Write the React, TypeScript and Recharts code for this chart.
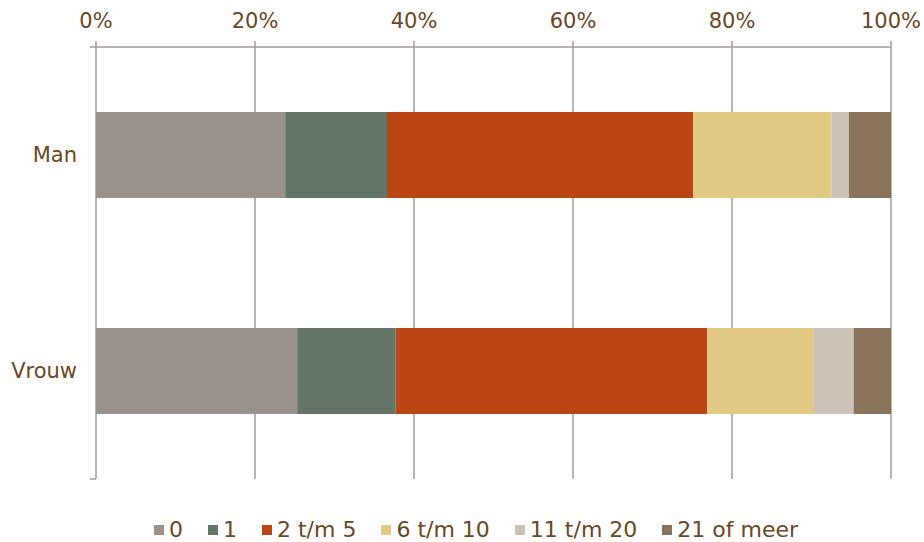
import React from "react";
import {
  BarChart,
  Bar,
  XAxis,
  YAxis,
  CartesianGrid,
  Legend,
} from "recharts";

// aandeel per groep (%)
const categories = ["Man", "Vrouw"];
const seriesNames = ["0", "1", "2 t/m 5", "6 t/m 10", "11 t/m 20", "21 of meer"];
const s0 = [23.8, 25.3];
const s1 = [12.8, 12.4];
const s2 = [38.5, 39.2];
const s3 = [17.4, 13.3];
const s4 = [2.2, 5.1];
const s5 = [5.3, 4.7];
const xTicks = [0, 20, 40, 60, 80, 100];
const edgeTicks = [0, 1, 2];

const COLORS = ["#9a928b", "#627566", "#bb4513", "#e2ca85", "#cdc4b7", "#8a735b"];
const TEXT = "#6b4723";
const LINE = "#a59a95";
const FONT = "'DejaVu Sans', sans-serif";

const allSeries = [s0, s1, s2, s3, s4, s5];
const data = categories.map((name, i) => {
  const row: Record<string, string | number> = { name };
  seriesNames.forEach((s, j) => {
    row[s] = allSeries[j][i];
  });
  return row;
});

const LegendContent = () => (
  <div
    style={{
      height: 63,
      display: "flex",
      justifyContent: "center",
      alignItems: "flex-end",
      paddingLeft: 61,
      boxSizing: "border-box",
      gap: 25,
      fontFamily: FONT,
      fontSize: 22,
      color: TEXT,
    }}
  >
    {seriesNames.map((s, i) => (
      <div key={s} style={{ display: "flex", alignItems: "center", height: 24, lineHeight: "24px", whiteSpace: "nowrap" }}>
        <span style={{ width: 10, height: 10, background: COLORS[i], marginRight: 5, display: "inline-block" }} />
        <span>{s}</span>
      </div>
    ))}
  </div>
);

export default function App() {
  return (
    <div style={{ position: "absolute", left: 0, top: 0 }}>
      <BarChart
        width={924}
        height={542}
        data={data}
        layout="vertical"
        margin={{ top: 0, right: 33, left: 0, bottom: 0 }}
      >
        <CartesianGrid horizontal={false} stroke={LINE} strokeWidth={1.5} />
        <YAxis
          yAxisId="b"
          dataKey="name"
          type="category"
          width={95}
          axisLine={false}
          tickLine={false}
          tickSize={0}
          tickMargin={18}
          tick={{ fill: TEXT, fontSize: 21, fontFamily: FONT }}
        />
        {/* alleen voor de streepjes op de categoriegrenzen */}
        <YAxis
          yAxisId="a"
          type="number"
          domain={[0, 2]}
          ticks={edgeTicks}
          width={1}
          tick={() => <g />}
          axisLine={false}
          tickLine={{ stroke: LINE, strokeWidth: 1.5 }}
          tickSize={6}
        />
        <XAxis
          type="number"
          orientation="top"
          domain={[0, 100]}
          ticks={xTicks}
          height={47}
          tickFormatter={(v) => `${v}%`}
          axisLine={{ stroke: LINE, strokeWidth: 1.5 }}
          tickLine={{ stroke: LINE, strokeWidth: 1.5 }}
          tickSize={6}
          tickMargin={13}
          tick={{ fill: TEXT, fontSize: 21, fontFamily: FONT }}
        />
        <Legend verticalAlign="bottom" content={<LegendContent />} />
        {seriesNames.map((s, i) => (
          <Bar
            key={s}
            dataKey={s}
            yAxisId="b"
            stackId="a"
            fill={COLORS[i]}
            barSize={86}
            isAnimationActive={false}
          />
        ))}
      </BarChart>
    </div>
  );
}
